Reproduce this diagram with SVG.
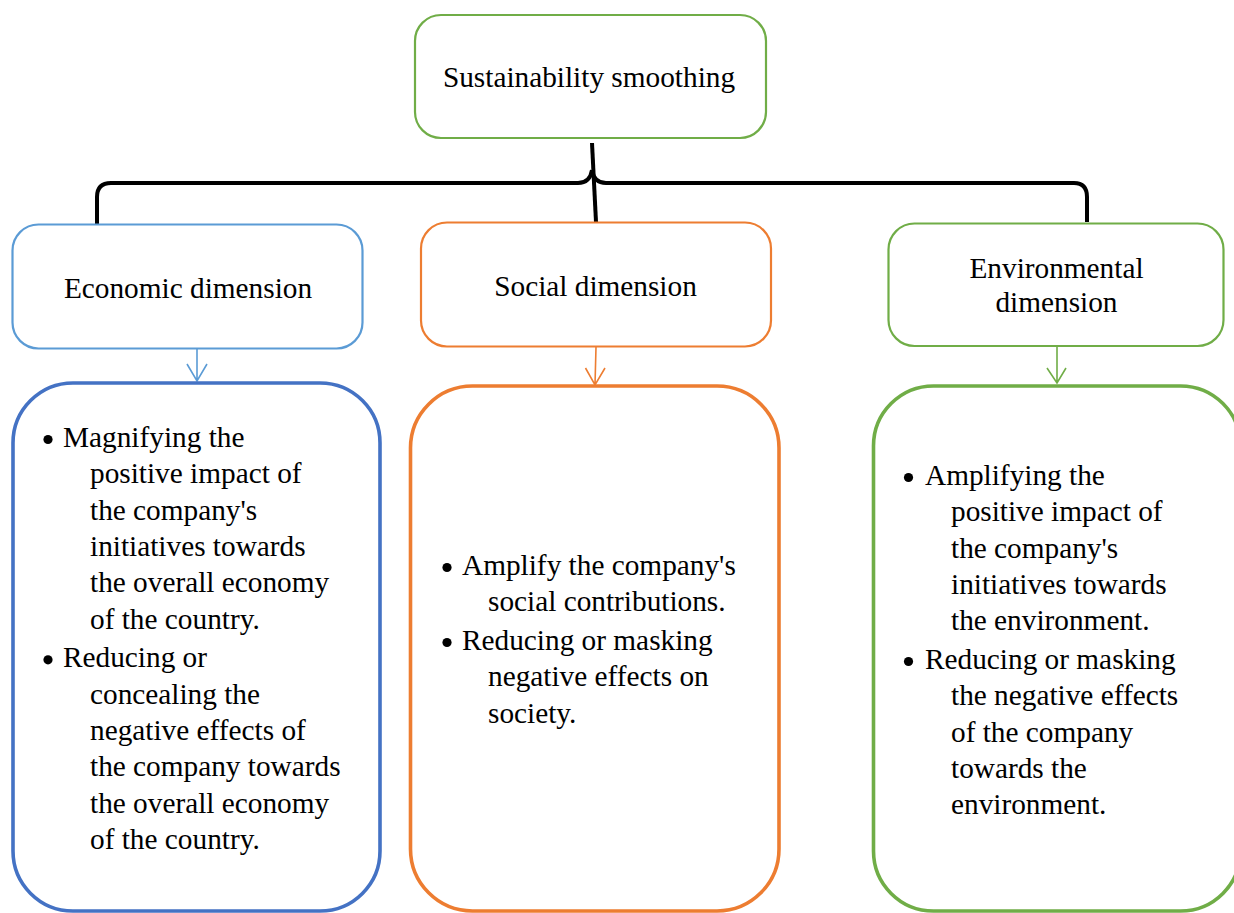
<svg xmlns="http://www.w3.org/2000/svg" width="1234" height="913" viewBox="0 0 1234 913">
  <defs>
    <style>
      text { font-family: "Liberation Serif", "Times New Roman", serif; font-size: 29.3px; fill: #000; }
      .mid { text-anchor: middle; }
      .head { fill: #fff; stroke-width: 2.2; }
      .panel { fill: #fff; stroke-width: 3.6; }
      .link { fill: none; stroke: #000; stroke-width: 4; stroke-linecap: butt; stroke-linejoin: round; }
      .arr { fill: none; stroke-width: 1.6; }
      .dot { fill: #000; }
      .green { stroke: #70AD47; }
      .blue { stroke: #5B9BD5; }
      .navy { stroke: #4472C4; }
      .orange { stroke: #ED7D31; }
    </style>
  </defs>

  <rect width="1234" height="913" fill="#fff"/>

  <!-- tree connectors -->
  <g id="connectors">
    <path class="link" d="M97,224 L97,197 Q97,183 111,183 L578,183 Q590,183 592,170"/>
    <path class="link" d="M592,170 Q594,183 606,183 L1074,183 Q1087,183 1087,197 L1087,222"/>
    <path class="link" d="M592,143 L596,222"/>
    <path class="arr blue" d="M197,349 L197,381 M187,364 L197,381 L207,364"/>
    <path class="arr orange" d="M596,347 L595,385 M585.5,368 L595,385 L605,368"/>
    <path class="arr green" d="M1057,346 L1057,383 M1047,368 L1057,383 L1066,368"/>
  </g>

  <g id="root">
    <rect class="head green" x="415" y="15" width="351" height="123" rx="26"/>
    <text class="mid" x="589" y="87">Sustainability smoothing</text>
  </g>

  <g id="economic">
    <rect class="head blue" x="12.5" y="224.5" width="350" height="124" rx="26"/>
    <text class="mid" x="188" y="298">Economic dimension</text>
  </g>

  <g id="social">
    <rect class="head orange" x="421" y="222.5" width="350" height="124" rx="26"/>
    <text class="mid" x="595.5" y="296">Social dimension</text>
  </g>

  <g id="environmental">
    <rect class="head green" x="888.5" y="223.5" width="335" height="122.5" rx="26"/>
    <text class="mid" x="1056.5" y="278">Environmental</text>
    <text class="mid" x="1056.5" y="312">dimension</text>
  </g>

  <g id="economic-detail">
    <rect class="panel navy" x="13" y="383" width="367" height="528" rx="60"/>
    <circle class="dot" cx="48" cy="439.5" r="4.6"/>
    <text x="63" y="447">Magnifying the</text>
    <text x="90" y="483.3">positive impact of</text>
    <text x="90" y="519.6">the company's</text>
    <text x="90" y="556">initiatives towards</text>
    <text x="90" y="592.2">the overall economy</text>
    <text x="90" y="628.5">of the country.</text>
    <circle class="dot" cx="48" cy="659.8" r="4.6"/>
    <text x="63" y="667.3">Reducing or</text>
    <text x="90" y="703.6">concealing the</text>
    <text x="90" y="740">negative effects of</text>
    <text x="90" y="776.2">the company towards</text>
    <text x="90" y="812.5">the overall economy</text>
    <text x="90" y="848.8">of the country.</text>
  </g>

  <g id="social-detail">
    <rect class="panel orange" x="410.5" y="386" width="368.5" height="525" rx="62"/>
    <circle class="dot" cx="447" cy="567.5" r="4.6"/>
    <text x="462" y="575">Amplify the company's</text>
    <text x="488" y="611.3">social contributions.</text>
    <circle class="dot" cx="447" cy="642.5" r="4.6"/>
    <text x="462" y="650">Reducing or masking</text>
    <text x="488" y="686.4">negative effects on</text>
    <text x="488" y="722.7">society.</text>
  </g>

  <g id="environmental-detail">
    <rect class="panel green" x="873.5" y="386" width="367" height="525" rx="60"/>
    <circle class="dot" cx="908.5" cy="477.5" r="4.6"/>
    <text x="925" y="485">Amplifying the</text>
    <text x="951" y="521.3">positive impact of</text>
    <text x="951" y="557.6">the company's</text>
    <text x="951" y="594">initiatives towards</text>
    <text x="951" y="630.2">the environment.</text>
    <circle class="dot" cx="908.5" cy="661.5" r="4.6"/>
    <text x="925" y="669">Reducing or masking</text>
    <text x="951" y="705.3">the negative effects</text>
    <text x="951" y="741.6">of the company</text>
    <text x="951" y="778">towards the</text>
    <text x="951" y="814.2">environment.</text>
  </g>
</svg>
